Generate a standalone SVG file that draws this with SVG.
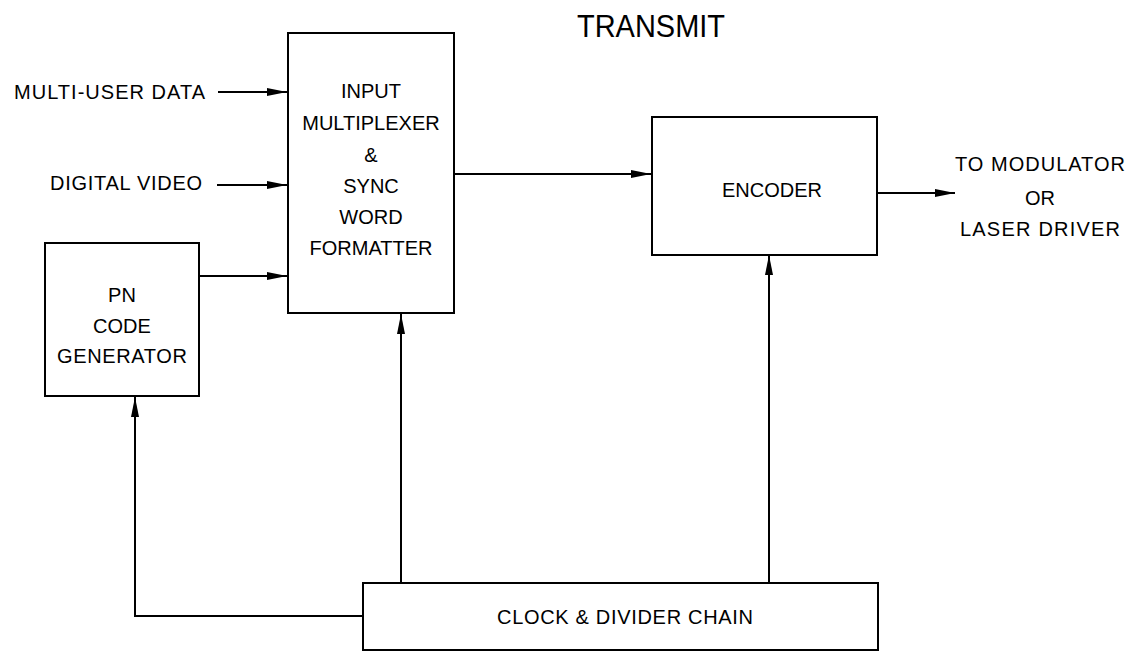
<svg xmlns="http://www.w3.org/2000/svg" width="1140" height="656" viewBox="0 0 1140 656">
<style>
.box{fill:#fff;stroke:#000;stroke-width:2}
.t{font-family:"Liberation Sans",Arial,sans-serif;font-size:20px;fill:#000;text-anchor:middle}
.l{font-family:"Liberation Sans",Arial,sans-serif;font-size:20px;fill:#000}
.c{fill:none;stroke:#000;stroke-width:2}
</style>
<defs>
<marker id="ah" viewBox="0 0 20 10" refX="20" refY="5" markerWidth="20" markerHeight="10" markerUnits="userSpaceOnUse" orient="auto">
<path d="M0,1 L20,5 L0,9 Z" fill="#000"/>
</marker>
</defs>
<text x="651" y="37" style="font-family:'Liberation Sans',Arial,sans-serif;font-size:31px;fill:#000;text-anchor:middle" textLength="148" lengthAdjust="spacingAndGlyphs">TRANSMIT</text>
<text class="l" x="14" y="99" textLength="191" lengthAdjust="spacing">MULTI-USER DATA</text>
<text class="l" x="50" y="190" textLength="152" lengthAdjust="spacing">DIGITAL VIDEO</text>
<g id="connectors">
<path class="c" d="M218,92 H287" marker-end="url(#ah)"/>
<path class="c" d="M217,185 H287" marker-end="url(#ah)"/>
<path class="c" d="M199,276 H287" marker-end="url(#ah)"/>
<path class="c" d="M454,174 H651" marker-end="url(#ah)"/>
<path class="c" d="M877,193 H955" marker-end="url(#ah)"/>
<path class="c" d="M401,583 V314" marker-end="url(#ah)"/>
<path class="c" d="M769,583 V255" marker-end="url(#ah)"/>
<path class="c" d="M363,616 H135 V397" marker-end="url(#ah)"/>
</g>
<g id="mux">
<rect class="box" x="288" y="33" width="166" height="280"/>
<text class="t" x="371" y="98">INPUT</text>
<text class="t" x="371" y="130">MULTIPLEXER</text>
<text class="t" x="371" y="162">&amp;</text>
<text class="t" x="371" y="193">SYNC</text>
<text class="t" x="371" y="224">WORD</text>
<text class="t" x="371" y="255">FORMATTER</text>
</g>
<g id="encoder">
<rect class="box" x="652" y="117" width="225" height="138"/>
<text class="t" x="772" y="197">ENCODER</text>
</g>
<g id="pn">
<rect class="box" x="45" y="243" width="154" height="153"/>
<text class="t" x="122" y="302">PN</text>
<text class="t" x="122" y="333">CODE</text>
<text class="t" x="122" y="363" textLength="130" lengthAdjust="spacing">GENERATOR</text>
</g>
<g id="clock">
<rect class="box" x="363" y="583" width="515" height="67"/>
<text class="t" x="625" y="624" textLength="256" lengthAdjust="spacing">CLOCK &amp; DIVIDER CHAIN</text>
</g>
<g id="output-label">
<text class="t" x="1040" y="171" textLength="170" lengthAdjust="spacing">TO MODULATOR</text>
<text class="t" x="1040" y="205">OR</text>
<text class="t" x="1040" y="236" textLength="160" lengthAdjust="spacing">LASER DRIVER</text>
</g>
</svg>
